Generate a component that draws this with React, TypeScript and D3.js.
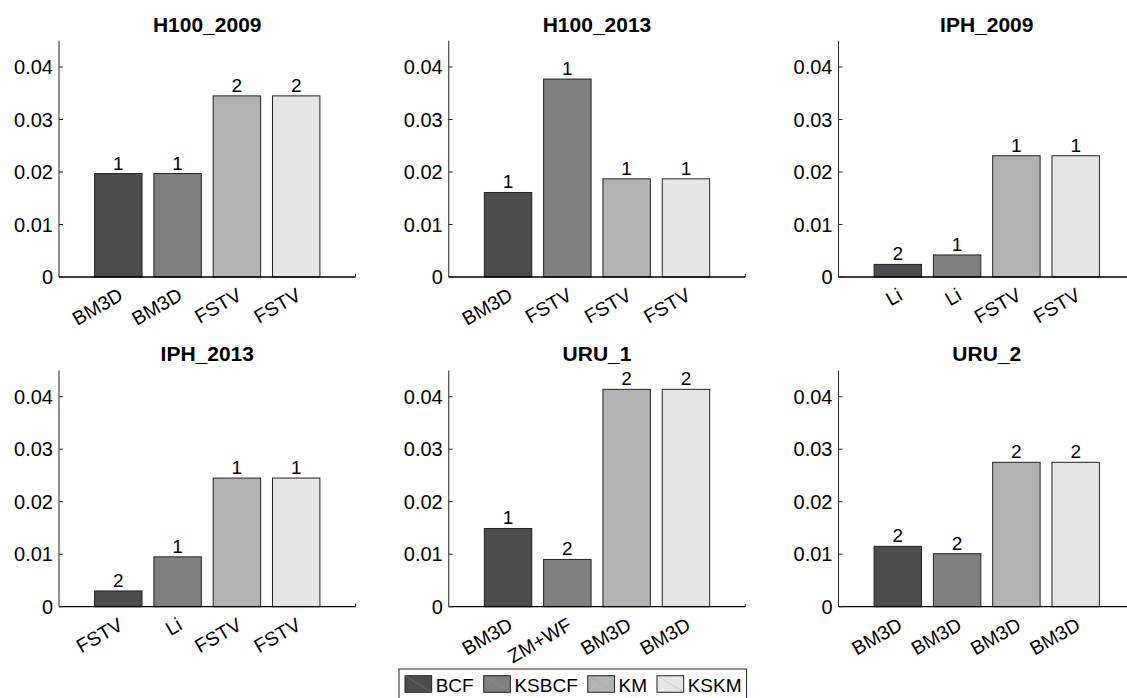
import React, { useEffect, useRef } from "react";
import * as d3 from "d3";

const panelTitles = ["H100_2009", "H100_2013", "IPH_2009", "IPH_2013", "URU_1", "URU_2"];
const seriesNames = ["BCF", "KSBCF", "KM", "KSKM"];
const seriesColors = ["#4d4d4d", "#808080", "#b3b3b3", "#e6e6e6"];

const valuesH100_2009 = [0.0197, 0.0197, 0.0345, 0.0345];
const valuesH100_2013 = [0.0161, 0.0377, 0.0187, 0.0187];
const valuesIPH_2009 = [0.0024, 0.0042, 0.0231, 0.0231];
const valuesIPH_2013 = [0.0030, 0.0095, 0.0245, 0.0245];
const valuesURU_1 = [0.0149, 0.0090, 0.0414, 0.0414];
const valuesURU_2 = [0.0115, 0.0101, 0.0275, 0.0275];
const panelValues = [valuesH100_2009, valuesH100_2013, valuesIPH_2009, valuesIPH_2013, valuesURU_1, valuesURU_2];

const labelsH100_2009 = ["1", "1", "2", "2"];
const labelsH100_2013 = ["1", "1", "1", "1"];
const labelsIPH_2009 = ["2", "1", "1", "1"];
const labelsIPH_2013 = ["2", "1", "1", "1"];
const labelsURU_1 = ["1", "2", "2", "2"];
const labelsURU_2 = ["2", "2", "2", "2"];
const panelBarLabels = [labelsH100_2009, labelsH100_2013, labelsIPH_2009, labelsIPH_2013, labelsURU_1, labelsURU_2];

const ticksH100_2009 = ["BM3D", "BM3D", "FSTV", "FSTV"];
const ticksH100_2013 = ["BM3D", "FSTV", "FSTV", "FSTV"];
const ticksIPH_2009 = ["Li", "Li", "FSTV", "FSTV"];
const ticksIPH_2013 = ["FSTV", "Li", "FSTV", "FSTV"];
const ticksURU_1 = ["BM3D", "ZM+WF", "BM3D", "BM3D"];
const ticksURU_2 = ["BM3D", "BM3D", "BM3D", "BM3D"];
const panelTickLabels = [ticksH100_2009, ticksH100_2013, ticksIPH_2009, ticksIPH_2013, ticksURU_1, ticksURU_2];

const yTickValues = [0, 0.01, 0.02, 0.03, 0.04];
const yMax = 0.045;

const W = 1127;
const H = 698;
const FONT = "'Liberation Sans', Arial, Helvetica, sans-serif";

export default function App() {
  const ref = useRef<SVGSVGElement>(null);

  useEffect(() => {
    const svg = d3.select(ref.current);
    svg.selectAll("*").remove();
    svg.append("rect").attr("width", W).attr("height", H).attr("fill", "#fff");

    const axLeft0 = 59;
    const colStep = 389.75;
    const axWidth = 296.5;
    const base0 = 277;
    const rowStep = 329.7;
    const axHeight = 236.25;
    const axisColor = "#262626";

    panelTitles.forEach((title, p) => {
      const row = Math.floor(p / 3);
      const col = p % 3;
      const left = axLeft0 + col * colStep;
      const base = base0 + row * rowStep;
      const x = d3.scaleLinear().domain([0, 5]).range([left, left + axWidth]);
      const y = d3.scaleLinear().domain([0, yMax]).range([base, base - axHeight]);
      const g = svg.append("g");

      const vals = panelValues[p];
      vals.forEach((v, i) => {
        const x0 = x(i + 1 - 0.4);
        const x1 = x(i + 1 + 0.4);
        g.append("rect")
          .attr("x", x0)
          .attr("y", y(v))
          .attr("width", x1 - x0)
          .attr("height", y(0) - y(v))
          .attr("fill", seriesColors[i])
          .attr("stroke", "#222")
          .attr("stroke-width", 1);
        g.append("text")
          .attr("x", x(i + 1))
          .attr("y", y(v) - 4)
          .attr("text-anchor", "middle")
          .attr("font-family", FONT)
          .attr("font-size", 19)
          .attr("fill", "#000")
          .text(panelBarLabels[p][i]);
        const cx = x(i + 1);
        g.append("text")
          .attr("transform", `translate(${cx + 6},${base + 22}) rotate(-30)`)
          .attr("text-anchor", "end")
          .attr("font-family", FONT)
          .attr("font-size", 19.5)
          .attr("fill", "#000")
          .text(panelTickLabels[p][i]);
      });

      g.append("line")
        .attr("x1", left).attr("x2", left)
        .attr("y1", y(0)).attr("y2", y(yMax))
        .attr("stroke", axisColor).attr("stroke-width", 1);
      g.append("line")
        .attr("x1", left).attr("x2", left + axWidth)
        .attr("y1", y(0)).attr("y2", y(0))
        .attr("stroke", "#000").attr("stroke-width", 1.3);
      g.append("line")
        .attr("x1", left + axWidth).attr("x2", left + axWidth)
        .attr("y1", y(0)).attr("y2", y(0) - 3)
        .attr("stroke", axisColor).attr("stroke-width", 1);

      yTickValues.forEach((t) => {
        g.append("line")
          .attr("x1", left).attr("x2", left + 4)
          .attr("y1", y(t)).attr("y2", y(t))
          .attr("stroke", axisColor).attr("stroke-width", 1);
        g.append("text")
          .attr("x", left - 6)
          .attr("y", y(t))
          .attr("dy", "0.36em")
          .attr("text-anchor", "end")
          .attr("font-family", FONT)
          .attr("font-size", 20)
          .attr("fill", "#000")
          .text(t === 0 ? "0" : d3.format(".2f")(t));
      });

      g.append("text")
        .attr("x", left + axWidth / 2)
        .attr("y", base - 245.5)
        .attr("text-anchor", "middle")
        .attr("font-family", FONT)
        .attr("font-size", 21)
        .attr("font-weight", "bold")
        .attr("fill", "#000")
        .text(title);
    });

    // legend
    const lg = svg.append("g");
    const lx = 399;
    const ly = 669;
    const box = lg.append("rect")
      .attr("x", lx).attr("y", ly).attr("height", 31)
      .attr("fill", "#fff").attr("stroke", "#262626").attr("stroke-width", 1);
    let cur = lx + 6;
    const sw = 26.7;
    const sh = 16.6;
    seriesNames.forEach((name, i) => {
      lg.append("rect")
        .attr("x", cur).attr("y", ly + 6.7)
        .attr("width", sw).attr("height", sh)
        .attr("fill", seriesColors[i]).attr("stroke", "#222").attr("stroke-width", 1);
      lg.append("line")
        .attr("x1", cur).attr("y1", ly + 6.7)
        .attr("x2", cur + sw).attr("y2", ly + 6.7 + sh)
        .attr("stroke", "#999").attr("stroke-opacity", 0.45).attr("stroke-width", 0.8);
      const t = lg.append("text")
        .attr("x", cur + sw + 4)
        .attr("y", ly + 22.7)
        .attr("font-family", FONT)
        .attr("font-size", 19)
        .attr("fill", "#000")
        .text(name);
      const tw = (t.node() as SVGTextElement).getComputedTextLength();
      cur = cur + sw + 4 + tw + (i < seriesNames.length - 1 ? 10 : 5);
    });
    box.attr("width", cur - lx);
  }, []);

  return (
    <svg
      ref={ref}
      width={W}
      height={H}
      style={{ position: "absolute", left: 0, top: 0, display: "block" }}
    />
  );
}
